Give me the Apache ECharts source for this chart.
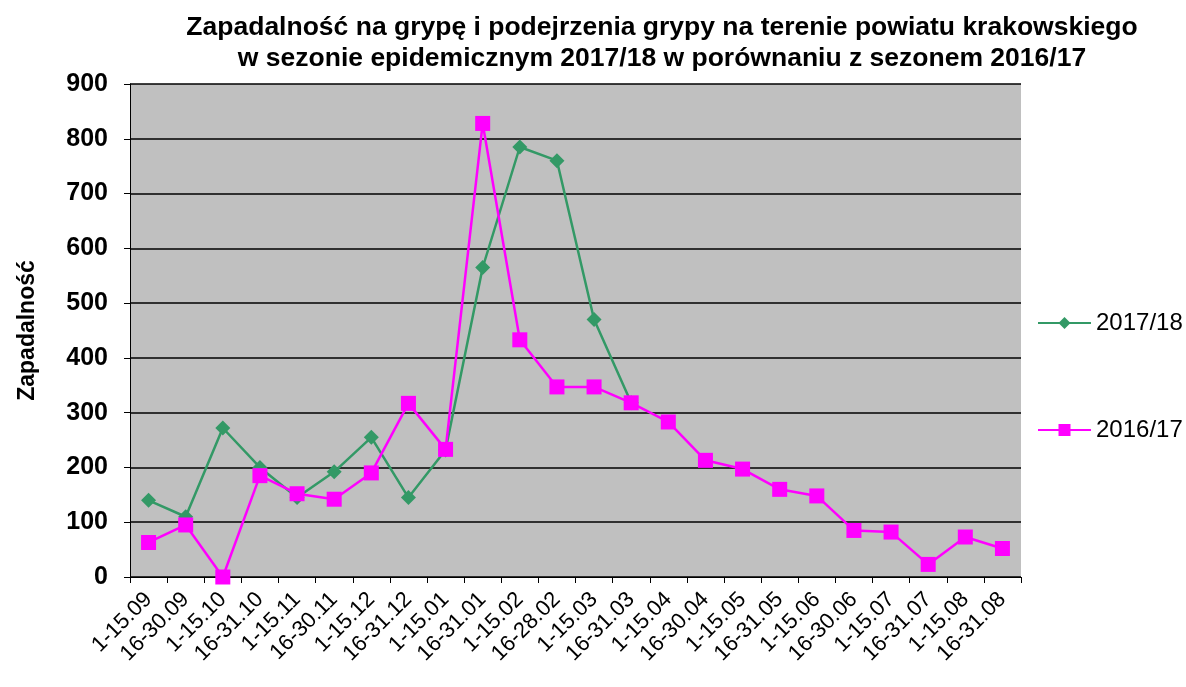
<!DOCTYPE html>
<html>
<head>
<meta charset="utf-8">
<script src="https://cdn.jsdelivr.net/npm/echarts@6/dist/echarts.min.js"></script>
<style>
  html, body { margin: 0; padding: 0; background: #fff; }
  #chart { width: 1186px; height: 687px; }
</style>
</head>
<body>
<div id="chart"></div>
<script>
var periods = [
  '1-15.09', '16-30.09', '1-15.10', '16-31.10', '1-15.11', '16-30.11',
  '1-15.12', '16-31.12', '1-15.01', '16-31.01', '1-15.02', '16-28.02',
  '1-15.03', '16-31.03', '1-15.04', '16-30.04', '1-15.05', '16-31.05',
  '1-15.06', '16-30.06', '1-15.07', '16-31.07', '1-15.08', '16-31.08'
];
// sezon 2017/18 (do 16-31.03)
var season1718 = [140, 110, 272, 200, 145, 192, 255, 145, 232, 565, 785, 760, 470, 318];
// sezon 2016/17
var season1617 = [63, 95, 0, 185, 152, 142, 190, 317, 233, 828, 433, 347, 347, 318,
  283, 213, 197, 160, 148, 85, 82, 23, 73, 52];
var yTicks = { min: 0, max: 900, interval: 100 };

var chart = echarts.init(document.getElementById('chart'), null, { renderer: 'canvas' });
var font = 'Arial, "Liberation Sans", sans-serif';

var option = {
  backgroundColor: '#ffffff',
  animation: false,
  title: {
    text: 'Zapadalność na grypę i podejrzenia grypy na terenie powiatu krakowskiego\nw sezonie epidemicznym 2017/18 w porównaniu z sezonem 2016/17',
    left: 657,
    top: 7,
    textAlign: 'center',
    textStyle: { fontFamily: font, fontSize: 26.5, fontWeight: 'bold', color: '#000', lineHeight: 31 }
  },
  legend: {
    orient: 'vertical',
    left: 1037,
    top: 311,
    padding: 0,
    itemGap: 83,
    itemWidth: 53,
    itemHeight: 15,
    textStyle: { fontFamily: font, fontSize: 24, color: '#000' },
    data: ['2017/18', '2016/17']
  },
  grid: { left: 130, right: 165, top: 84, bottom: 110, containLabel: false },
  xAxis: {
    type: 'category',
    data: periods,
    boundaryGap: true,
    axisLine: { lineStyle: { color: '#000', width: 1 } },
    axisTick: { show: true, length: 6, lineStyle: { color: '#000' } },
    axisLabel: {
      rotate: 45, interval: 0, margin: 19,
      fontFamily: font, fontSize: 22, color: '#000'
    },
    splitLine: { show: false }
  },
  yAxis: {
    type: 'value',
    min: yTicks.min, max: yTicks.max, interval: yTicks.interval,
    name: 'Zapadalność',
    nameLocation: 'middle',
    nameGap: 91,
    nameTextStyle: { fontFamily: font, fontSize: 23, fontWeight: 'bold', color: '#000' },
    axisLine: { show: true, lineStyle: { color: '#000', width: 1 } },
    axisTick: { show: true, length: 6, lineStyle: { color: '#000' } },
    axisLabel: { fontFamily: font, fontSize: 25, fontWeight: 'bold', color: '#000', margin: 22 },
    splitLine: { show: true, lineStyle: { color: '#000', width: 1.5 } },
    splitArea: { show: true, areaStyle: { color: ['#c0c0c0', '#c0c0c0'] } }
  },
  series: [
    {
      name: '2017/18',
      type: 'line',
      data: season1718,
      symbol: 'diamond',
      symbolSize: 15,
      color: '#339966',
      lineStyle: { color: '#339966', width: 2.5 },
      itemStyle: { color: '#339966' },
      z: 2
    },
    {
      name: '2016/17',
      type: 'line',
      data: season1617,
      symbol: 'rect',
      symbolSize: 15,
      color: '#ff00ff',
      lineStyle: { color: '#ff00ff', width: 2.5 },
      itemStyle: { color: '#ff00ff' },
      z: 3
    }
  ]
};

chart.setOption(option);
</script>
</body>
</html>
